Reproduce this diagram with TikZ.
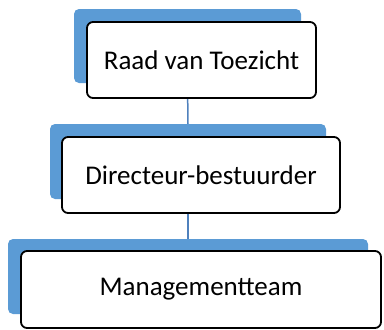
\documentclass[tikz,border=0pt]{standalone}
\usepackage{fontspec}
\setmainfont{Carlito}
\definecolor{lagblauw}{RGB}{91,155,213}
\definecolor{lijnblauw}{RGB}{79,129,189}
\tikzset{
    achter/.style={fill=lagblauw, rounded corners=5pt, inner sep=0pt},
    kader/.style={draw=black, line width=1.8pt, fill=white, rounded corners=6pt,
        font=\fontsize{27}{32}\selectfont, inner sep=0pt},
    verbind/.style={lijnblauw, line width=1.5pt}
}
\begin{document}
\begin{tikzpicture}[x=1pt, y=-1pt]
    \useasboundingbox (0,0) rectangle (384,330);

    % ---- blauwe achtergrondvlakken ----
    \node[achter, minimum width=227pt, minimum height=74pt] (b1) at (187.5,46) {};
    \node[achter, minimum width=276pt, minimum height=75pt] (b2) at (188,161.5) {};
    \node[achter, minimum width=360pt, minimum height=75pt] (b3) at (188,276.5) {};

    % ---- verbindingslijnen ----
    \draw[verbind] (b1.south) -- (b2.north);
    \draw[verbind] (b2.south) -- (b3.north);

    % ---- witte kaders met tekst ----
    \node[kader, minimum width=229pt, minimum height=76pt] (raad) at (201.5,60) {Raad van Toezicht};
    \node[kader, minimum width=278pt, minimum height=76pt] (dir) at (201,175) {Directeur-bestuurder};
    \node[kader, minimum width=360pt, minimum height=77pt] (mt) at (201,289.5) {Managementteam};
\end{tikzpicture}
\end{document}
